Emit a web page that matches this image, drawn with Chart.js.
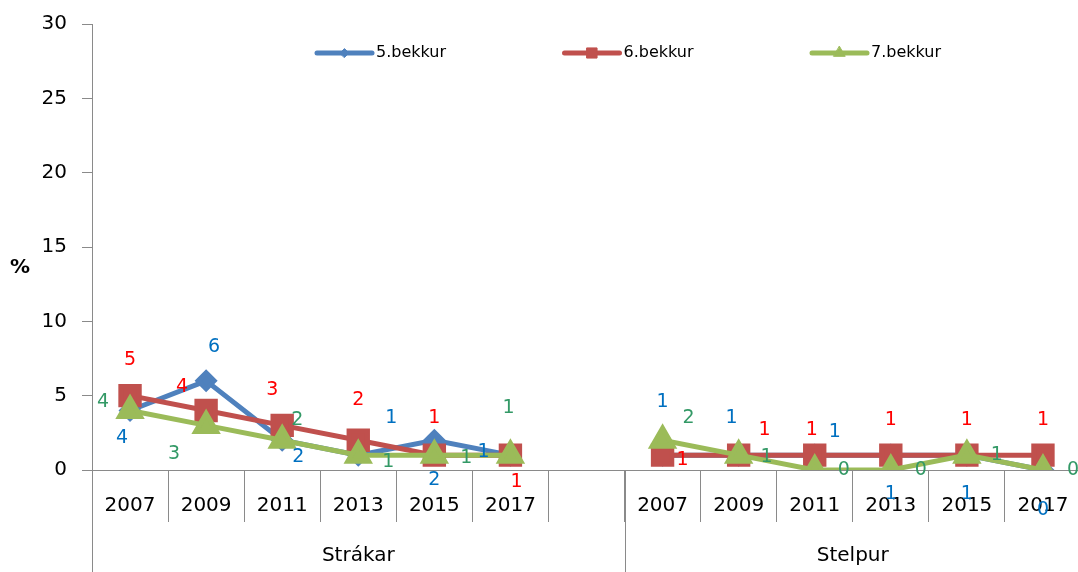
<!DOCTYPE html>
<html>
<head>
<meta charset="utf-8">
<script src="https://cdn.jsdelivr.net/npm/chart.js@4.4.0/dist/chart.umd.min.js"></script>
<style>
  html, body { margin: 0; padding: 0; background: #fff; overflow: hidden; }
  canvas { display: block; }
</style>
</head>
<body>
<canvas id="chart" width="1082" height="572"></canvas>
<script>
var years = ['2007', '2009', '2011', '2013', '2015', '2017'];
var groups = ['Strákar', 'Stelpur'];
var seriesNames = ['5.bekkur', '6.bekkur', '7.bekkur'];
var yTicks = [0, 5, 10, 15, 20, 25, 30];

var strakar5 = [4, 6, 2, 1, 2, 1];
var strakar6 = [5, 4, 3, 2, 1, 1];
var strakar7 = [4, 3, 2, 1, 1, 1];
var stelpur5 = [1, 1, 1, 1, 1, 0];
var stelpur6 = [1, 1, 1, 1, 1, 1];
var stelpur7 = [2, 1, 0, 0, 1, 0];

// where each data label sits relative to its point (px), like in the original
var shift5 = [[-8, 28], [8, -34], [16, 17], [33, -37], [0, 40], [-27, -3], null,
              [0, -53], [-7, -37], [20, -23], [0, 39], [0, 39], [0, 40]];
var shift6 = [[0, -36], [-24, -23], [-10, -35], [0, -40], [0, -37], [6, 27], null,
              [20, 5], [26, -25], [-3, -25], [0, -35], [0, -35], [0, -35]];
var shift7 = [[-27, -8], [-32, 29], [15, -20], [30, 7], [32, 3], [-2, -47], null,
              [26, -22], [28, 2], [29, 0], [30, 0], [30, 0], [30, 0]];

// blank slot between the two groups
var labels = years.concat([''], years);
function join(a, b) { return a.concat([null], b); }

var font = '"DejaVu Sans", sans-serif';
var axisGray = '#8a8a8a';

var labelPlugin = {
    id: 'pointLabels',
    afterDatasetsDraw: function (chart) {
        var ctx = chart.ctx;
        ctx.save();
        ctx.font = '19px ' + font;
        ctx.textAlign = 'center';
        ctx.textBaseline = 'middle';
        chart.data.datasets.forEach(function (ds, i) {
            var meta = chart.getDatasetMeta(i);
            meta.data.forEach(function (pt, j) {
                var v = ds.data[j];
                if (v === null) return;
                var s = ds.labelShift[j];
                ctx.fillStyle = ds.labelColor;
                ctx.fillText(String(v), pt.x + s[0], pt.y + s[1]);
            });
        });
        ctx.restore();
    }
};

var axisPlugin = {
    id: 'groupAxis',
    afterDraw: function (chart) {
        var ctx = chart.ctx;
        var x = chart.scales.x;
        var area = chart.chartArea;
        var h = chart.height;
        var sep = (x.getPixelForValue(6) + x.getPixelForValue(7)) / 2;
        ctx.save();
        ctx.strokeStyle = axisGray;
        ctx.lineWidth = 1;
        ctx.beginPath();
        ctx.moveTo(area.left + 0.5, area.bottom);
        ctx.lineTo(area.left + 0.5, h);
        ctx.moveTo(Math.round(sep) + 0.5, area.bottom);
        ctx.lineTo(Math.round(sep) + 0.5, h);
        ctx.stroke();
        ctx.fillStyle = '#000';
        ctx.font = '20px ' + font;
        ctx.textAlign = 'center';
        ctx.textBaseline = 'middle';
        ctx.fillText(groups[0], (area.left + sep) / 2, 556);
        ctx.fillText(groups[1], (sep + area.right) / 2, 556);
        ctx.font = 'bold 20px ' + font;
        ctx.fillText('%', 20, 268);

        // legend
        ctx.font = '16px ' + font;
        ctx.textAlign = 'left';
        chart.data.datasets.forEach(function (ds, i) {
            var lx = 317 + i * 247.5, ly = 53;
            ctx.strokeStyle = ds.borderColor;
            ctx.fillStyle = ds.borderColor;
            ctx.lineWidth = 5;
            ctx.lineCap = 'round';
            ctx.beginPath();
            ctx.moveTo(lx, ly);
            ctx.lineTo(lx + 55, ly);
            ctx.stroke();
            ctx.lineWidth = 1;
            Chart.helpers.drawPoint(ctx, {
                pointStyle: ds.pointStyle,
                radius: ds.pointRadius * 0.55,
                borderWidth: 1
            }, lx + 27.5, ly);
            ctx.fillStyle = '#000';
            ctx.fillText(ds.label, lx + 59, ly);
        });
        ctx.restore();
    }
};

var ctx = document.getElementById('chart');
var myChart = new Chart(ctx, {
    type: 'line',
    data: {
        labels: labels,
        datasets: [
            {
                label: seriesNames[0],
                data: join(strakar5, stelpur5),
                borderColor: '#4f81bd',
                backgroundColor: '#4f81bd',
                pointBackgroundColor: '#4f81bd',
                pointBorderColor: '#4f81bd',
                pointStyle: 'rectRot',
                pointRadius: 8,
                borderWidth: 5,
                labelColor: '#0070c0',
                labelShift: shift5,
                order: 3
            },
            {
                label: seriesNames[1],
                data: join(strakar6, stelpur6),
                borderColor: '#c0504d',
                backgroundColor: '#c0504d',
                pointBackgroundColor: '#c0504d',
                pointBorderColor: '#c0504d',
                pointStyle: 'rect',
                pointRadius: 13,
                borderWidth: 5,
                labelColor: '#ff0000',
                labelShift: shift6,
                order: 2
            },
            {
                label: seriesNames[2],
                data: join(strakar7, stelpur7),
                borderColor: '#9bbb59',
                backgroundColor: '#9bbb59',
                pointBackgroundColor: '#9bbb59',
                pointBorderColor: '#9bbb59',
                pointStyle: 'triangle',
                pointRadius: 12,
                borderWidth: 5,
                labelColor: '#339966',
                labelShift: shift7,
                order: 1
            }
        ]
    },
    options: {
        responsive: false,
        animation: false,
        spanGaps: false,
        layout: { autoPadding: false, padding: { top: 24, right: 1, left: 0, bottom: 0 } },
        plugins: {
            legend: { display: false },
            tooltip: { enabled: false }
        },
        elements: { line: { tension: 0 } },
        scales: {
            x: {
                offset: true,
                grid: {
                    offset: true,
                    drawOnChartArea: false,
                    color: axisGray,
                    tickLength: 52
                },
                border: { color: axisGray },
                ticks: {
                    autoSkip: false,
                    maxRotation: 0,
                    color: '#000',
                    font: { family: font, size: 20 },
                    padding: -28
                },
                afterFit: function (s) {
                    s.height = 102;
                    s.paddingLeft = 0;
                    s.paddingRight = 0;
                }
            },
            y: {
                min: 0,
                max: 30,
                afterBuildTicks: function (s) {
                    s.ticks = yTicks.map(function (v) { return { value: v }; });
                },
                grid: {
                    drawOnChartArea: false,
                    color: axisGray,
                    tickLength: 10
                },
                border: { color: axisGray },
                ticks: {
                    color: '#000',
                    font: { family: font, size: 20 },
                    padding: 15
                },
                afterFit: function (s) {
                    s.width = 92;
                    s.paddingTop = 0;
                    s.paddingBottom = 0;
                }
            }
        }
    },
    plugins: [labelPlugin, axisPlugin]
});
</script>
</body>
</html>
